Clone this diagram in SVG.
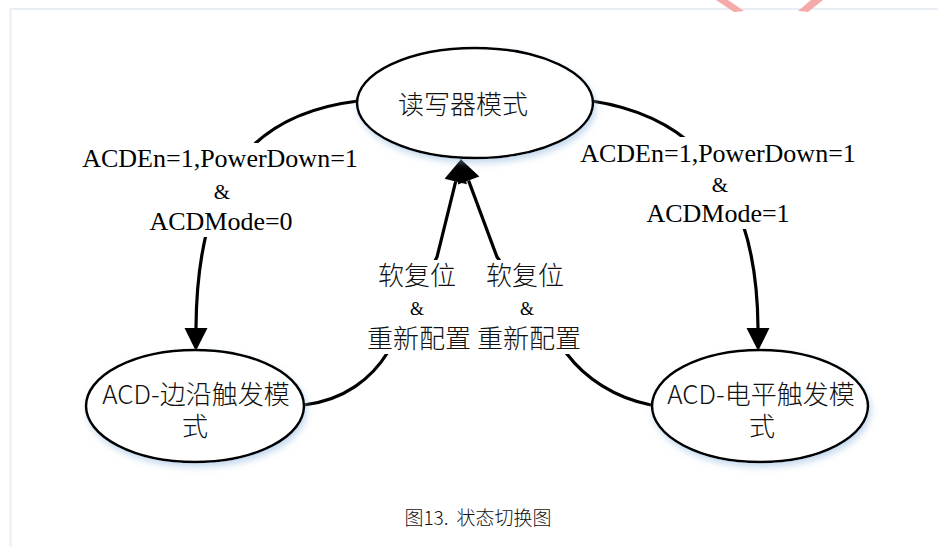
<svg xmlns="http://www.w3.org/2000/svg" width="942" height="547" viewBox="0 0 942 547">
  <style>
    .node { fill: #ffffff; stroke: #000000; stroke-width: 2.5; filter: url(#shadow); }
    .edge { fill: none; stroke: #000000; stroke-width: 3.2; marker-end: url(#arrow); }
    .cjk { font-family: "Noto Sans CJK SC", "Noto Sans", sans-serif; font-weight: 300; fill: #111111; text-anchor: middle; }
    .lat { font-family: "Liberation Serif", "Times New Roman", serif; fill: #000000; text-anchor: middle; }
    .mask { fill: #ffffff; }
  </style>
  <defs>
    <filter id="shadow" x="-20%" y="-20%" width="140%" height="150%">
      <feDropShadow dx="2" dy="4" stdDeviation="3" flood-color="#8fb6de" flood-opacity="0.5"/>
    </filter>
    <marker id="arrow" markerUnits="userSpaceOnUse" markerWidth="23" markerHeight="23" viewBox="0 0 23 23" refX="0" refY="11.5" orient="auto" overflow="visible">
      <path d="M0,0 L23,11.5 L0,23 z" fill="#000000"/>
    </marker>
  </defs>

  <rect x="0" y="0" width="942" height="547" fill="#ffffff"/>
  <path d="M10.5 547 V9 H938" fill="none" stroke="#e9eef4" stroke-width="2"/>
  <path d="M716 0 L728 0 L744 11 L734 12 Z" fill="#f6a9a9"/>
  <path d="M823 0 L811 0 L798 11 L808 12 Z" fill="#f6a9a9"/>

  <g id="connectors">
    <path id="e-rw-edge" class="edge" d="M358 101 C250 114 197 180 196 328"/>
    <path id="e-rw-level" class="edge" d="M592 101 C690 116 757 180 758 328"/>
    <path id="e-edge-rw" class="edge" d="M304 405 C345 400 372 378 388 352 L437 257 L455.7 181.4"/>
    <path id="e-level-rw" class="edge" d="M651 405 C615 398 585 378 567 354 L497 257 L468.6 180.6"/>
  </g>

  <g id="label-left">
    <rect class="mask" x="78" y="143" width="284" height="94"/>
    <text class="lat" x="220" y="167" font-size="26">ACDEn=1,PowerDown=1</text>
    <text class="lat" x="222" y="199" font-size="21">&amp;</text>
    <text class="lat" x="221" y="230" font-size="26">ACDMode=0</text>
  </g>
  <g id="label-right">
    <rect class="mask" x="574" y="137" width="288" height="92"/>
    <text class="lat" x="718" y="162" font-size="26">ACDEn=1,PowerDown=1</text>
    <text class="lat" x="720" y="192" font-size="21">&amp;</text>
    <text class="lat" x="718" y="222" font-size="26">ACDMode=1</text>
  </g>
  <g id="label-reset-left">
    <rect class="mask" x="360" y="260" width="113" height="94"/>
    <text class="cjk" x="417" y="285" font-size="26">软复位</text>
    <text class="lat" x="417" y="315" font-size="18">&amp;</text>
    <text class="cjk" x="419" y="348" font-size="26">重新配置</text>
  </g>
  <g id="label-reset-right">
    <rect class="mask" x="473" y="260" width="112" height="94"/>
    <text class="cjk" x="525" y="285" font-size="26">软复位</text>
    <text class="lat" x="527" y="315" font-size="18">&amp;</text>
    <text class="cjk" x="529" y="348" font-size="26">重新配置</text>
  </g>

  <g id="node-reader">
    <ellipse class="node" cx="475" cy="103" rx="118" ry="55"/>
    <text class="cjk" x="463" y="114" font-size="26">读写器模式</text>
  </g>
  <g id="node-edge">
    <ellipse class="node" cx="195" cy="406" rx="109" ry="56"/>
    <text class="cjk" x="196" y="404" font-size="26">ACD-边沿触发模</text>
    <text class="cjk" x="195" y="436" font-size="26">式</text>
  </g>
  <g id="node-level">
    <ellipse class="node" cx="760" cy="406" rx="108" ry="56"/>
    <text class="cjk" x="761" y="404" font-size="26">ACD-电平触发模</text>
    <text class="cjk" x="762" y="436" font-size="26">式</text>
  </g>

  <text id="caption" class="cjk" x="478" y="525" font-size="19" fill="#333333">图13.<tspan dx="8">状态切换图</tspan></text>
</svg>
